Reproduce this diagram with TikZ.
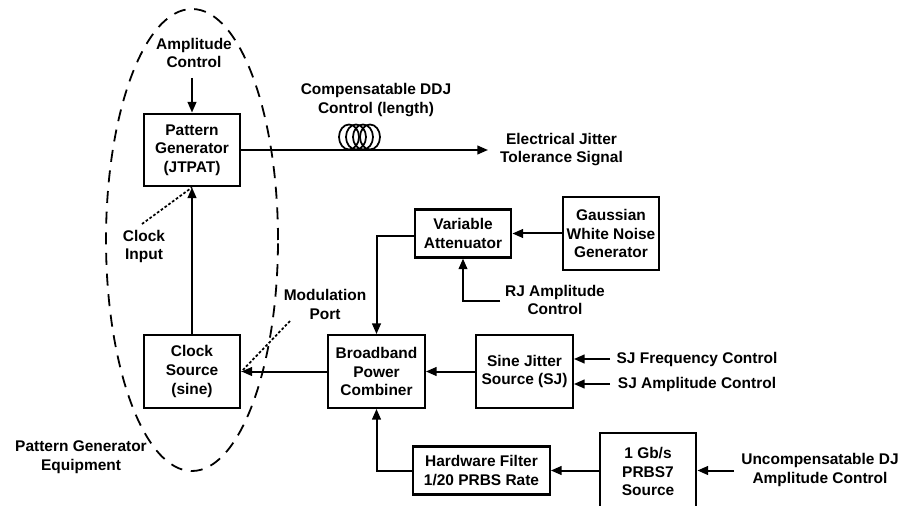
\documentclass[tikz,border=0pt]{standalone}
\usepackage{fontspec}
\setmainfont{Liberation Sans}
\usetikzlibrary{arrows.meta,shapes.geometric}
\tikzset{
	blockbox/.style = {draw, line width = 1.6pt, minimum width = 72.5pt, inner sep = 0pt, align = center},
	tall/.style = {minimum height = 54.5pt},
	short/.style = {minimum height = 36pt},
	lbl/.style = {align = center, inner sep = 0pt},
	sig/.style = {line width = 1.5pt, -{Stealth[length = 8pt, width = 6.5pt, inset = 0pt]}},
	hint/.style = {line width = 1.3pt, dash pattern = on 2pt off 1.5pt}
}
\begin{document}
\begin{tikzpicture}[x = 0.75pt, y = -0.75pt, font = \fontsize{11.6pt}{14pt}\selectfont\bfseries]
	\useasboundingbox (0, 0) rectangle (911, 506);

	% equipment outline
	\node[draw, ellipse, line width = 1.35pt, dash pattern = on 9pt off 6.5pt, minimum width = 129pt, minimum height = 346.5pt, inner sep = 0pt] (equipment) at (192, 240) {};

	% blocks
	\node[blockbox, tall] (jtpat) at (192, 150) {Pattern\\Generator\\(JTPAT)};
	\node[blockbox, tall] (clock) at (192, 371.5) {Clock\\Source\\(sine)};
	\node[blockbox, tall] (combiner) at (376.5, 371.5) {Broadband\\Power\\Combiner};
	\node[blockbox, tall] (sine) at (524.5, 371.5) {Sine Jitter\\Source (SJ)};
	\node[blockbox, short] (atten) at (463, 233.5) {Variable\\Attenuator};
	\node[blockbox, tall] (noise) at (611, 233.5) {Gaussian\\White Noise\\Generator};
	\node[blockbox, short, minimum width = 102.5pt] (filter) at (481.5, 470.5) {Hardware Filter\\1/20 PRBS Rate};
	\node[blockbox, minimum height = 57.5pt] (prbs) at (648, 471.5) {1 Gb/s\\PRBS7\\Source};

	% labels
	\node[lbl] (amplabel) at (194, 53) {Amplitude\\Control};
	\node[lbl] (ddjlabel) at (376, 100) {Compensatable DDJ\\Control (length)};
	\node[lbl] (outlabel) at (561.5, 149.5) {Electrical Jitter\\Tolerance Signal};
	\node[lbl] (rjlabel) at (555, 300) {RJ Amplitude\\Control};
	\node[lbl] (inputlabel) at (144, 246.5) {Clock\\Input};
	\node[lbl] (portlabel) at (325, 304.5) {Modulation\\Port};
	\node[lbl] (equiplabel) at (81, 457.5) {Pattern Generator\\Equipment};
	\node[lbl] (sjfreq) at (697, 359) {SJ Frequency Control};
	\node[lbl] (sjamp) at (697, 384) {SJ Amplitude Control};
	\node[lbl] (djlabel) at (820, 470) {Uncompensatable DJ\\Amplitude Control};

	% free ends
	\coordinate (ampin) at (192, 78);
	\coordinate (out) at (488, 150);
	\coordinate (rjin) at (500, 300.5);
	\coordinate (inputhint) at (142, 224);
	\coordinate (porthint) at (290, 321);
	\coordinate (sjfreqin) at (610, 359);
	\coordinate (sjampin) at (610, 384);
	\coordinate (djin) at (734, 470.5);

	% connectors
	\draw[sig] (ampin) -- (jtpat.north);
	\draw[sig] (clock.north) -- (jtpat.south);
	\draw[sig] (jtpat.east) -- (out);
	\draw[sig] (combiner.west) -- (clock.east);
	\draw[sig] (sine.west) -- (combiner.east);
	\draw[sig] (noise.west) -- (atten.east);
	\draw[sig] ([yshift = -2pt]atten.west) -| (combiner.north);
	\draw[sig] (rjin) -| (atten.south);
	\draw[sig] (filter.west) -| (combiner.south);
	\draw[sig] (filter.east -| prbs.west) -- (filter.east);
	\draw[sig] (sjfreqin) -- (sjfreqin -| sine.east);
	\draw[sig] (sjampin) -- (sjampin -| sine.east);
	\draw[sig] (djin) -- (djin -| prbs.east);

	% pointers
	\draw[hint] (inputhint) -- (jtpat.south);
	\draw[hint] (porthint) -- (clock.east);

	% fibre coil
	\foreach \cx in {349, 356, 363, 370}
		\draw[line width = 1.3pt] (\cx, 137) ellipse (10 and 12.5);
\end{tikzpicture}
\end{document}
